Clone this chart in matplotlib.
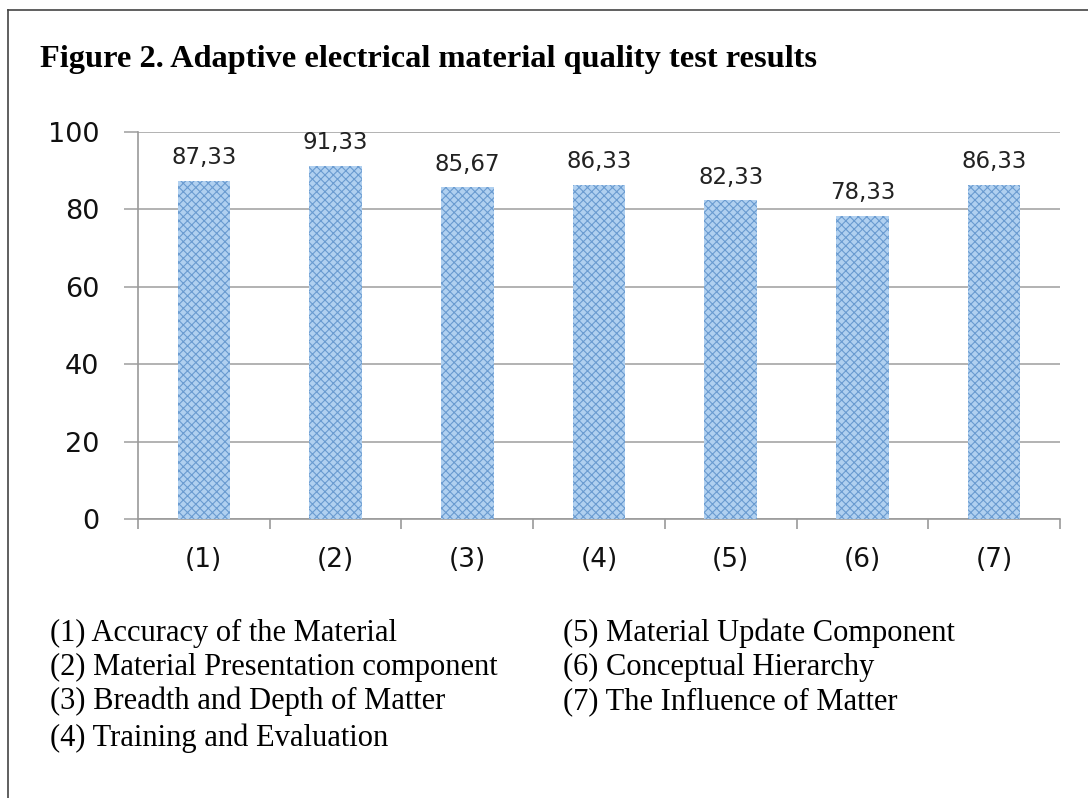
import matplotlib
matplotlib.use("Agg")
import matplotlib.pyplot as plt
from matplotlib.lines import Line2D

# data
categories = ["(1)", "(2)", "(3)", "(4)", "(5)", "(6)", "(7)"]
scores = [87.33, 91.33, 85.67, 86.33, 82.33, 78.33, 86.33]
notes_left = ["(1) Accuracy of the Material",
              "(2) Material Presentation component",
              "(3) Breadth and Depth of Matter",
              "(4) Training and Evaluation"]
notes_right = ["(5) Material Update Component",
               "(6) Conceptual Hierarchy",
               "(7) The Influence of Matter"]

W, H = 1088, 798
fig = plt.figure(figsize=(W / 100, H / 100), dpi=100)
fig.patch.set_facecolor("white")

# axes box in pixels: left 138, right 1060, top 132, bottom 519
ax = fig.add_axes([138 / W, 1 - 519 / H, (1060 - 138) / W, (519 - 132) / H])

plt.rcParams["hatch.linewidth"] = 0.8
x = list(range(len(categories)))
bars = ax.bar(x, scores, width=0.4, color="#b0d0f0", edgecolor="#6a9bd0",
              hatch="xxxx", linewidth=0, zorder=3)

for xi, v in zip(x, scores):
    ax.text(xi, v + 3.0, f"{v:.2f}".replace(".", ","), ha="center", va="bottom",
            fontsize=16.5, family="DejaVu Sans", color="#222222")

ax.set_xlim(-0.5, len(categories) - 0.5)
ax.set_ylim(0, 100)
ax.set_yticks([0, 20, 40, 60, 80, 100])
ax.set_xticks(x)
ax.set_xticklabels(categories)
ax.set_xticks([i - 0.5 for i in range(len(categories) + 1)], minor=True)

ax.grid(axis="y", color="#a6a6a6", linewidth=1.2, zorder=0)
for s in ["top", "right"]:
    ax.spines[s].set_visible(False)
for s in ["left", "bottom"]:
    ax.spines[s].set_color("#9a9a9a")
    ax.spines[s].set_linewidth(1.2)

ax.tick_params(axis="y", length=10, width=1.2, color="#a6a6a6", pad=18,
               labelsize=19.5, labelcolor="#111111")
ax.tick_params(axis="x", which="major", length=0, pad=20, labelsize=19,
               labelcolor="#111111")
ax.tick_params(axis="x", which="minor", length=7, width=1.2, color="#9a9a9a")

# title
fig.text(40 / W, 1 - 67 / H, "Figure 2. Adaptive electrical material quality test results",
         family="Liberation Serif", weight="bold", fontsize=23.3, va="baseline", ha="left")

# category notes
base = [641, 675, 709, 746]
for i, t in enumerate(notes_left):
    fig.text(50 / W, 1 - base[i] / H, t, family="Liberation Serif", fontsize=22,
             va="baseline", ha="left")
for i, t in enumerate(notes_right):
    fig.text(563 / W, 1 - base[i] / H, t, family="Liberation Serif", fontsize=22,
             va="baseline", ha="left")

# frame (left and top only)
fig.add_artist(Line2D([8 / W, 8 / W], [0, 1 - 10 / H], color="#444444", linewidth=1.2,
                      transform=fig.transFigure))
fig.add_artist(Line2D([8 / W, 1], [1 - 10 / H, 1 - 10 / H], color="#444444", linewidth=1.2,
                      transform=fig.transFigure))

fig.savefig("out.png", dpi=100)
